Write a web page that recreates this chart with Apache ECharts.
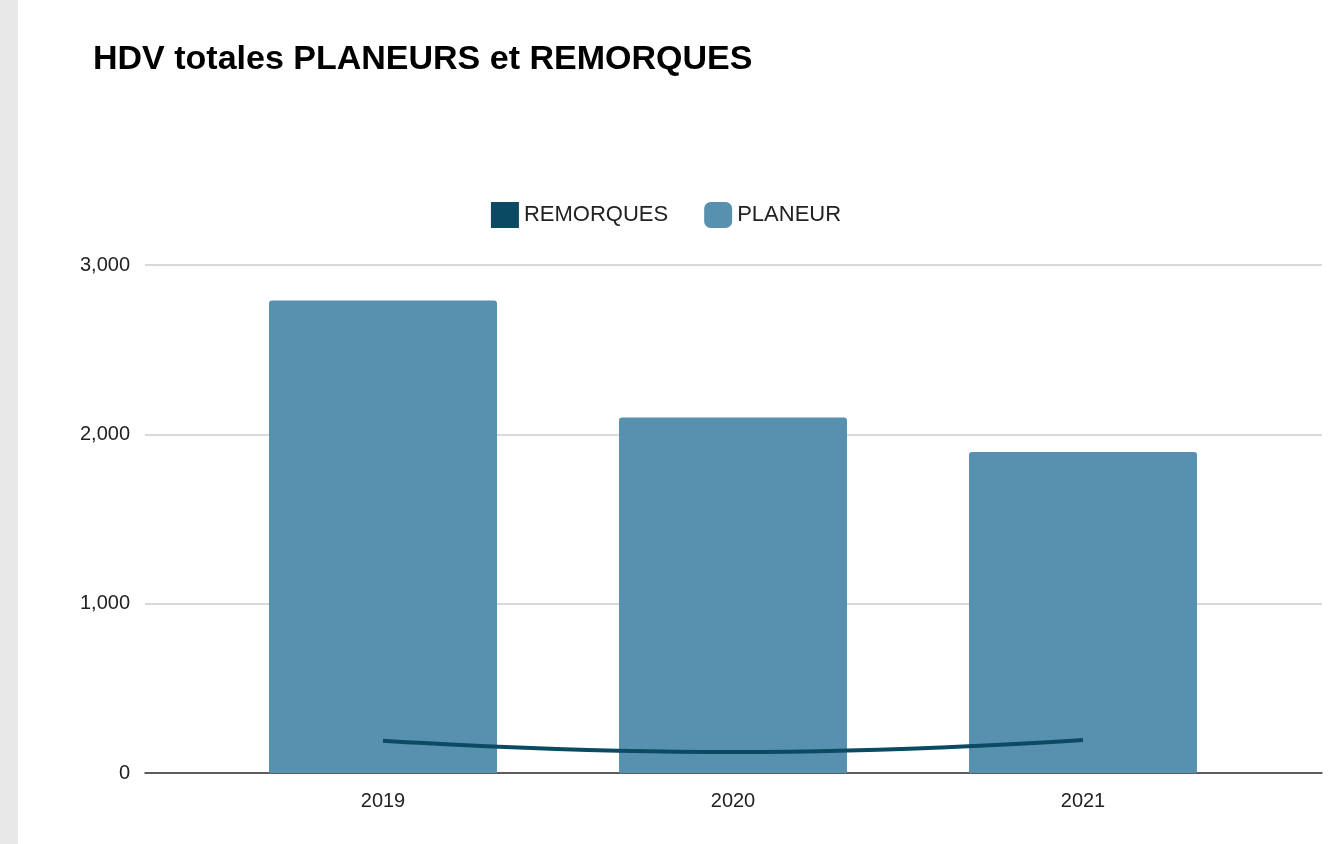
<!DOCTYPE html><html><head><meta charset="utf-8">
<script src="https://cdn.jsdelivr.net/npm/echarts@6/dist/echarts.min.js"></script>
<style>body{margin:0;background:#fff}#c{width:1332px;height:844px}#s{position:absolute;left:0;top:0;width:18px;height:844px;background:#e8e8e8}</style>
</head><body><div id="s"></div><div id="c"></div><script>
const categories=['2019','2020','2021'];
const planeur=[2790,2100,1895];
const remorques=[190,124,195];
const yTicks=[0,1000,2000,3000];
const ch=echarts.init(document.getElementById('c'));
ch.setOption({
 backgroundColor:'transparent',
 title:{text:'HDV totales PLANEURS et REMORQUES',left:88,top:38,textStyle:{fontFamily:'Liberation Sans',fontSize:34,fontWeight:'bold',color:'#000'}},
 legend:{top:197,left:'center',itemGap:36,textStyle:{fontFamily:'Liberation Sans',fontSize:22,color:'#222'},
  data:[{name:'REMORQUES',icon:'rect',itemStyle:{color:'#0b4a63'}},{name:'PLANEUR',icon:'roundRect'}],itemWidth:28,itemHeight:26},
 grid:[{left:145,right:10,top:265,bottom:71},{left:208,width:1050,top:265,bottom:71}],
 xAxis:[{gridIndex:0,type:'category',data:[''],axisLine:{lineStyle:{color:'#333',width:1.5}},axisTick:{show:false},axisLabel:{show:false}},
  {gridIndex:1,type:'category',data:categories,axisLine:{show:false},axisTick:{show:false},axisLabel:{fontFamily:'Liberation Sans',fontSize:20,color:'#222',margin:18}}],
 yAxis:[{gridIndex:0,type:'value',min:yTicks[0],max:yTicks[3],interval:1000,axisLabel:{fontFamily:'Liberation Sans',fontSize:20,color:'#222',margin:15},splitLine:{lineStyle:{color:'#ccc',width:1.5}}},
  {gridIndex:1,type:'value',min:0,max:3000,interval:1000,show:false}],
 series:[
  {name:'PLANEUR',type:'bar',xAxisIndex:1,yAxisIndex:1,data:planeur,barWidth:228,itemStyle:{color:'#5891b0',borderRadius:[3,3,0,0]}},
  {name:'REMORQUES',type:'line',xAxisIndex:1,yAxisIndex:1,data:remorques,smooth:true,symbol:'none',lineStyle:{color:'#0b4a63',width:4},itemStyle:{color:'#0b4a63'}}
 ]
});
</script></body></html>
